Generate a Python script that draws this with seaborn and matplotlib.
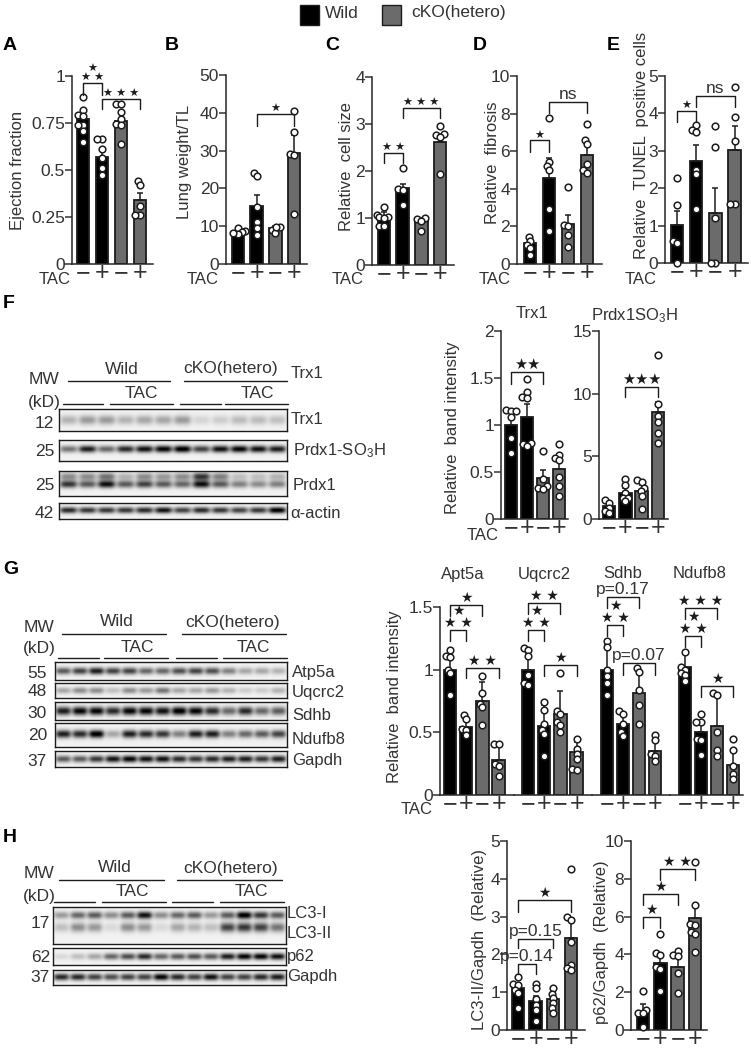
import numpy as np
import pandas as pd
import matplotlib
matplotlib.use("Agg")
import matplotlib.pyplot as plt
from matplotlib.collections import PathCollection
from matplotlib.patches import Rectangle
import seaborn as sns

CONDITIONS = ["Wild", "Wild TAC", "cKO", "cKO TAC"]
SIGNS = ["\u2212", "+", "\u2212", "+"]
BAR_COLORS = ["#000000", "#000000", "#6b6b6b", "#6b6b6b"]
INK = "#1c1c1c"
TEXT = "#333333"

# bar heights, upper error and single points
A_MEANS = [0.77, 0.57, 0.76, 0.34]
A_ERR = [0.04, 0.04, 0.04, 0.04]
A_POINTS = [[0.887, 0.82, 0.79, 0.785, 0.74, 0.74, 0.705, 0.65],
            [0.664, 0.664, 0.61, 0.563, 0.513, 0.474],
            [0.85, 0.85, 0.81, 0.77, 0.745, 0.74, 0.64],
            [0.44, 0.42, 0.306, 0.26, 0.26]]
A_BRACKETS = [(0, 1, 0.965, 0.90, "\u2605\n\u2605 \u2605"), (1, 3, 0.88, 0.823, "\u2605 \u2605 \u2605")]

B_MEANS = [8.5, 15.3, 9.5, 29.3]
B_ERR = [0.8, 2.9, 0.6, 4.7]
B_POINTS = [[9.5, 8.6, 8.4, 7.9, 8.2],
            [24.2, 23.3, 15.2, 11.2, 9.5, 7.7],
            [9.9, 9.0, 8.2, 9.7],
            [40.5, 34.8, 29.0, 28.8, 13.3]]
B_BRACKETS = [(1, 3, 39.6, 36.4, "\u2605")]

C_MEANS = [1.02, 1.63, 0.96, 2.62]
C_ERR = [0.1, 0.1, 0.05, 0.1]
C_POINTS = [[1.23, 1.07, 1.03, 1.02, 1.0, 0.82, 0.82],
            [2.06, 1.62, 1.6, 1.28],
            [1.0, 0.98, 0.93, 0.73],
            [2.95, 2.78, 2.76, 2.73, 1.93]]
C_BRACKETS = [(0, 1, 2.39, 2.16, "\u2605 \u2605"), (1, 3, 3.35, 3.12, "\u2605 \u2605 \u2605")]

D_MEANS = [1.1, 4.6, 2.15, 5.8]
D_ERR = [0.2, 1.05, 0.45, 0.6]
D_POINTS = [[1.43, 1.2, 1.03, 0.85, 0.5],
            [7.75, 5.45, 5.2, 5.0, 2.94, 1.77],
            [4.1, 2.1, 2.0, 1.56, 0.9],
            [7.45, 6.6, 6.4, 5.3, 5.0, 4.85]]
D_BRACKETS = [(0, 1, 6.57, 5.98, "\u2605"), (1, 3, 8.6, 8.02, "ns")]

E_MEANS = [1.02, 2.72, 1.33, 3.02]
E_ERR = [0.38, 0.43, 0.67, 0.63]
E_POINTS = [[2.27, 1.54, 0.6, 0.53, 0.0],
            [3.7, 3.56, 3.5, 2.5, 2.38, 1.45],
            [3.67, 3.1, 1.2, 0.0, 0.0],
            [4.7, 3.9, 3.27, 1.58, 1.58]]
E_BRACKETS = [(0, 1, 4.07, 3.78, "\u2605"), (1, 3, 4.47, 4.18, "ns")]

TRX_MEANS = [1.0, 1.09, 0.44, 0.53]
TRX_ERR = [0.13, 0.13, 0.08, 0.09]
TRX_POINTS = [[1.16, 1.15, 1.15, 1.09, 0.865, 0.7],
              [1.49, 1.35, 1.3, 1.29, 0.81, 0.8, 0.78],
              [0.72, 0.43, 0.35, 0.33, 0.32],
              [0.8, 0.68, 0.65, 0.63, 0.45, 0.35, 0.25]]
TRX_BRACKETS = [(0, 2, 1.56, 1.44, "\u2605\u2605")]

PRDX_MEANS = [1.0, 2.1, 2.2, 8.5]
PRDX_ERR = [0.3, 0.4, 0.5, 0.8]
PRDX_POINTS = [[1.5, 1.27, 0.9, 0.6, 0.5],
               [3.2, 2.7, 2.1, 1.7, 1.7, 1.4],
               [3.1, 2.95, 2.45, 2.2, 1.85, 0.8],
               [13.1, 9.15, 8.2, 7.7, 6.9, 6.05]]
PRDX_BRACKETS = [(1, 3, 10.56, 9.7, "\u2605\u2605\u2605")]

APT_MEANS = [1.0, 0.54, 0.75, 0.28]
APT_ERR = [0.12, 0.08, 0.15, 0.12]
APT_POINTS = [[1.16, 1.11, 1.1, 1.0, 0.97, 0.8],
              [0.64, 0.61, 0.53, 0.52, 0.48],
              [0.95, 0.81, 0.73, 0.7, 0.56],
              [0.41, 0.41, 0.25, 0.23, 0.15]]
APT_BRACKETS = [(0, 1, 1.314, 1.23, "\u2605\n\u2605 \u2605"), (0, 2, 1.513, 1.43, "\u2605"), (1, 3, 1.017, 0.93, "\u2605 \u2605")]

UQ_MEANS = [1.0, 0.55, 0.65, 0.34]
UQ_ERR = [0.13, 0.17, 0.18, 0.08]
UQ_POINTS = [[1.17, 1.16, 1.11, 0.96, 0.89, 0.88],
             [0.74, 0.68, 0.57, 0.52, 0.49, 0.31],
             [0.97, 0.67, 0.65, 0.58, 0.56, 0.5],
             [0.45, 0.37, 0.33, 0.29, 0.21, 0.2]]
UQ_BRACKETS = [(0, 1, 1.314, 1.23, "\u2605\n\u2605 \u2605"), (0, 2, 1.534, 1.447, "\u2605 \u2605"), (1, 3, 1.04, 0.95, "\u2605")]

SDH_MEANS = [1.0, 0.57, 0.81, 0.35]
SDH_ERR = [0.2, 0.08, 0.17, 0.1]
SDH_POINTS = [[1.23, 1.18, 1.0, 0.95, 0.89, 0.8],
              [0.67, 0.65, 0.57, 0.5, 0.47],
              [1.01, 0.98, 0.84, 0.72, 0.57],
              [0.48, 0.44, 0.33, 0.31, 0.27]]
SDH_BRACKETS = [(0, 1, 1.354, 1.266, "\u2605\n\u2605 \u2605"), (0, 2, 1.58, 1.495, "p=0.17"), (1, 3, 1.05, 0.96, "p=0.07")]

NDU_MEANS = [1.02, 0.5, 0.55, 0.24]
NDU_ERR = [0.11, 0.08, 0.25, 0.13]
NDU_POINTS = [[1.14, 1.02, 1.0, 0.97, 0.96, 0.91],
              [0.65, 0.58, 0.58, 0.45, 0.44, 0.32],
              [0.81, 0.8, 0.5, 0.36, 0.31],
              [0.45, 0.36, 0.23, 0.17, 0.13]]
NDU_BRACKETS = [(0, 1, 1.27, 1.18, "\u2605\n\u2605 \u2605"), (0, 2, 1.495, 1.407, "\u2605 \u2605 \u2605"), (1, 3, 0.87, 0.783, "\u2605")]

LC3_MEANS = [1.1, 0.78, 0.83, 2.43]
LC3_ERR = [0.15, 0.12, 0.12, 0.52]
LC3_POINTS = [[1.39, 1.23, 1.2, 1.06, 0.97, 0.57],
              [1.23, 1.1, 0.82, 0.66, 0.53, 0.25],
              [1.1, 0.95, 0.84, 0.72, 0.57, 0.46],
              [4.27, 2.98, 2.9, 2.34, 1.72, 1.63, 1.58]]
LC3_BRACKETS = [(0, 3, 3.43, 3.12, "\u2605"), (0, 2, 2.42, 2.16, "p=0.15"), (0, 1, 1.74, 1.48, "p=0.14")]

P62_MEANS = [0.95, 3.55, 3.35, 5.95]
P62_ERR = [0.4, 0.55, 0.6, 0.6]
P62_POINTS = [[2.06, 1.06, 0.92, 0.9, 0.14],
              [5.06, 4.05, 3.95, 3.35, 3.25, 2.08],
              [4.2, 3.95, 3.9, 3.0, 1.97],
              [8.9, 6.6, 5.6, 5.55, 5.2, 5.1, 4.15]]
P62_BRACKETS = [(0, 1, 5.96, 5.41, "\u2605"), (0, 2, 7.2, 6.6, "\u2605"), (1, 3, 8.52, 7.94, "\u2605 \u2605")]

# band strength per lane for the blots
F_TRX1 = [0.25, 0.35, 0.35, 0.25, 0.3, 0.3, 0.35, 0.12, 0.15, 0.22, 0.22, 0.2]
F_SOH = [0.5, 0.85, 0.55, 0.8, 0.9, 0.95, 1.0, 0.7, 0.9, 0.95, 0.9, 0.85]
F_PRDX_UP = [0.4, 0.4, 0.5, 0.25, 0.4, 0.35, 0.4, 0.75, 0.45, 0.2, 0.2, 0.25]
F_PRDX_LOW = [0.75, 0.6, 0.9, 0.6, 0.7, 0.6, 0.55, 0.9, 0.6, 0.45, 0.4, 0.45]
F_ACTIN = [0.8, 0.75, 0.75, 0.75, 0.8, 0.9, 0.7, 0.8, 0.75, 0.7, 0.75, 1.0]
G_ATP = [0.6, 0.7, 0.85, 0.7, 0.7, 0.55, 0.55, 0.65, 0.7, 0.65, 0.45, 0.3, 0.3, 0.25]
G_UQ = [0.3, 0.4, 0.4, 0.2, 0.4, 0.35, 0.5, 0.3, 0.3, 0.35, 0.25, 0.15, 0.15, 0.25]
G_SDH = [0.85, 0.95, 0.95, 0.8, 0.95, 0.95, 0.9, 1.0, 0.95, 0.8, 0.55, 0.8, 0.55, 0.6]
G_NDU = [0.85, 0.8, 1.0, 0.3, 0.85, 0.8, 0.75, 0.45, 0.85, 0.85, 0.45, 0.55, 0.6, 0.7]
G_GAPDH = [0.6, 0.6, 0.75, 0.9, 0.95, 0.9, 0.9, 0.8, 0.75, 0.8, 0.85, 0.85, 0.75, 0.85]
H_LC3_I = [0.35, 0.55, 0.6, 0.4, 0.6, 0.9, 0.4, 0.55, 0.6, 0.35, 0.6, 1.0, 0.75, 0.6]
H_LC3_II = [0.2, 0.4, 0.35, 0.1, 0.4, 0.35, 0.1, 0.3, 0.25, 0.2, 0.7, 0.75, 0.7, 0.5]
H_P62 = [0.1, 0.2, 0.3, 0.55, 0.65, 0.8, 0.55, 0.6, 0.65, 0.6, 0.85, 0.95, 0.95, 0.9]
H_GAPDH = [0.8, 0.8, 0.7, 0.65, 0.7, 0.7, 0.95, 0.8, 0.7, 0.9, 0.7, 0.7, 0.8, 0.85]

W, H = 751, 1051

sns.set_theme(style="ticks")
plt.rcParams["font.family"] = ["Liberation Sans", "DejaVu Sans"]
plt.rcParams["mathtext.default"] = "regular"
plt.rcParams["text.color"] = TEXT
plt.rcParams["axes.labelcolor"] = TEXT
plt.rcParams["xtick.color"] = TEXT
plt.rcParams["ytick.color"] = TEXT

fig = plt.figure(figsize=(W / 100, H / 100), dpi=100)

# overlay in picture pixels for labels that are not tied to one axes
ov = fig.add_axes([0, 0, 1, 1], zorder=5)
ov.set_xlim(0, W)
ov.set_ylim(H, 0)
ov.axis("off")


def px_axes(x0, x1, top, bottom):
    return fig.add_axes([x0 / W, 1 - bottom / H, (x1 - x0) / W, (bottom - top) / H])


def say(x, y, s, size=12, ha="center", **kw):
    ov.text(x, y, s, fontsize=size, ha=ha, va="center", **kw)


def bar_panel(box, c0, step, means, err, points, brackets, ymax, ticks, ticklabels=None,
              ylabel=None, label_xy=None, star=8.5, left=True):
    x0, x1, top, bottom = box
    ax = px_axes(x0, x1, top, bottom)
    ax.patch.set_alpha(0)
    sns.barplot(x=CONDITIONS, y=means, hue=CONDITIONS, palette=BAR_COLORS, order=CONDITIONS,
                width=12.5 / step, edgecolor=INK, linewidth=1.3, legend=False, errorbar=None, ax=ax)
    ax.errorbar(range(4), means, yerr=[np.zeros(4), err], fmt="none", ecolor=INK,
                elinewidth=1.1, capsize=2.5, capthick=1.1, clip_on=False, zorder=3)
    long = pd.DataFrame({"condition": [c for c, vals in zip(CONDITIONS, points) for _ in vals],
                         "value": [v for vals in points for v in vals]})
    sns.swarmplot(data=long, x="condition", y="value", order=CONDITIONS, color="white",
                  edgecolor=INK, linewidth=0.6, size=2.6, clip_on=False, zorder=4, ax=ax)
    ax.set_xlim((x0 - c0) / step, (x1 - c0) / step)
    ax.set_ylim(0, ymax)
    # seaborn lays the swarm out again at draw time: fix it at the small size, then enlarge the dots
    fig.canvas.draw()
    for coll in ax.collections:
        if isinstance(coll, PathCollection):
            if "draw" in vars(coll):
                del coll.draw
            coll.set_sizes([23])
            coll.set_linewidth(1.1)
    for i, j, y_top, y_leg, txt in brackets:
        ax.plot([i, i, j, j], [y_leg, y_top, y_top, y_leg], color=INK, lw=1.0, clip_on=False, zorder=5)
        is_star = "\u2605" in txt
        ax.text((i + j) / 2, y_top, txt, ha="center", va="bottom", fontsize=star if is_star else 12.5,
                linespacing=0.85, color=INK if is_star else TEXT, clip_on=False)
    ax.set_xlim((x0 - c0) / step, (x1 - c0) / step)
    ax.set_ylim(0, ymax)
    ax.set_xticks(range(4))
    ax.set_xticklabels(SIGNS, fontsize=18)
    ax.tick_params(axis="x", length=0, pad=-2)
    ax.set_xlabel("")
    ax.set_ylabel("")
    sns.despine(ax=ax)
    ax.spines["bottom"].set_linewidth(1.1)
    if left:
        ax.set_yticks(ticks)
        ax.set_yticklabels(ticklabels if ticklabels else [str(t) for t in ticks], fontsize=12.5)
        ax.tick_params(axis="y", length=5, width=1.1, pad=0)
        ax.spines["left"].set_linewidth(1.1)
    else:
        ax.set_yticks([])
        ax.spines["left"].set_visible(False)
    if ylabel:
        ax.set_ylabel(ylabel, fontsize=12)
        # the label hangs left of its anchor, so move the anchor by half a text height
        ax.yaxis.set_label_coords(label_xy[0] + 9, label_xy[1], transform=ov.transData)
    return ax


def blot(x0, x1, top, bottom, bands):
    # bands: (height in the box, thickness, strength per lane)
    ax = px_axes(x0, x1, top, bottom)
    rows = max(int(bottom - top) * 3, 30)
    cols = int(x1 - x0) * 3
    yy, xx = np.mgrid[0:1:rows * 1j, 0:1:cols * 1j]
    dark = np.full((rows, cols), 0.05)
    for frac, thick, strength in bands:
        n = len(strength)
        for k, s in enumerate(strength):
            lane = np.exp(-(((xx - (k + 0.5) / n) * n / 0.46) ** 4))
            dark += s * lane * np.exp(-(((yy - frac) / thick) ** 2))
    ax.imshow(1 - np.clip(dark, 0, 1), cmap="gray", vmin=0, vmax=1, aspect="auto", interpolation="bilinear")
    ax.set_xticks([])
    ax.set_yticks([])
    for s in ax.spines.values():
        s.set_linewidth(1.0)
        s.set_color(INK)
    return ax


def header(mw_x, mw_y, kd_y, wild, cko, line_y, tac1, tac2, tac_y, spans, span_y):
    say(mw_x, mw_y, "MW", 12.5)
    say(mw_x, kd_y, "(kD)", 12.5)
    say(wild[0], line_y - 12, "Wild", 12.5)
    say(cko[0], line_y - 12, "cKO(hetero)", 12.5)
    ov.plot(wild[1:], [line_y, line_y], color=INK, lw=1.0)
    ov.plot(cko[1:], [line_y, line_y], color=INK, lw=1.0)
    say(tac1, tac_y, "TAC", 12.5)
    say(tac2, tac_y, "TAC", 12.5)
    for a, b in spans:
        ov.plot([a, b], [span_y, span_y], color=INK, lw=1.0)


# legend
ov.add_patch(Rectangle((299.5, 4.5), 19, 20, facecolor="black", edgecolor=INK, lw=1))
say(325, 13, "Wild", 12.5, ha="left")
ov.add_patch(Rectangle((382, 4.5), 19, 20, facecolor="#6b6b6b", edgecolor=INK, lw=1))
say(411, 13, "cKO(hetero)", 12.5, ha="left")

# panel letters
for letter, x, y in [("A", 3, 45), ("B", 165, 45), ("C", 325, 45), ("D", 473, 45), ("E", 607, 45),
                     ("F", 3, 304), ("G", 3, 569), ("H", 3, 838)]:
    say(x, y, letter, 14, ha="left", fontweight="bold", color="black")

# top row
bar_panel((72, 153, 76, 264), 83, 19, A_MEANS, A_ERR, A_POINTS, A_BRACKETS, 1, [0, 0.25, 0.5, 0.75, 1],
          ["0", "0.25", "0.5", "0.75", "1"], "Ejection fraction", (16, 170), star=8)
bar_panel((226, 307, 75, 264), 238, 18.7, B_MEANS, B_ERR, B_POINTS, B_BRACKETS, 50, [0, 10, 20, 30, 40, 50],
          None, "Lung weight/TL", (183, 162), star=8)
bar_panel((372, 454, 77, 265), 384, 18.7, C_MEANS, C_ERR, C_POINTS, C_BRACKETS, 4, [0, 1, 2, 3, 4],
          None, "Relative  cell size", (345, 167), star=8)
bar_panel((517, 602, 76, 264), 530, 19, D_MEANS, D_ERR, D_POINTS, D_BRACKETS, 10, [0, 2, 4, 6, 8, 10],
          None, "Relative  fibrosis", (491, 163), star=8)
bar_panel((665, 748, 76, 263), 677, 19.2, E_MEANS, E_ERR, E_POINTS, E_BRACKETS, 5, [0, 1, 2, 3, 4, 5],
          None, "Relative  TUNEL  positive cells", (640, 145), star=8)
for x, y in [(55, 279), (203, 279), (348, 280), (495, 279), (641, 279)]:
    say(x, y, "TAC", 12)

# panel F
header(44, 380, 403, (122, 68, 170), (231, 184, 287), 381, 141, 257, 393,
       [(63, 103), (110, 173), (180, 221), (225, 288)], 404)
blot(59, 287, 409, 431, [(0.5, 0.22, F_TRX1)])
blot(59, 287, 440, 461, [(0.43, 0.17, F_SOH)])
blot(59, 287, 471, 496, [(0.22, 0.16, F_PRDX_UP), (0.53, 0.15, F_PRDX_LOW)])
blot(59, 287, 503, 519, [(0.45, 0.2, F_ACTIN)])
for y, s in [(424, "12"), (451, "25"), (486, "25"), (513, "42")]:
    say(54, y, s, 12.5, ha="right")
for x, y, s in [(291, 373, "Trx1"), (291, 419, "Trx1"), (293, 451, "Prdx1-SO$_3$H"), (293, 485, "Prdx1"), (290, 514, "\u03b1-actin")]:
    say(x, y, s, 12, ha="left")

bar_panel((501, 568, 331, 519), 511, 16, TRX_MEANS, TRX_ERR, TRX_POINTS, TRX_BRACKETS, 2, [0, 0.5, 1, 1.5, 2],
          ["0", "0.5", "1", "1.5", "2"], "Relative  band intensity", (451, 428), star=10.5)
bar_panel((599, 668, 331, 519), 609, 16.3, PRDX_MEANS, PRDX_ERR, PRDX_POINTS, PRDX_BRACKETS, 15, [0, 5, 10, 15], star=10.5)
say(532, 314, "Trx1", 12)
say(635, 316, "Prdx1SO$_3$H", 12)
say(483, 536, "TAC", 12)

# panel G
header(39, 628, 649, (117, 62, 166), (233, 182, 286), 634, 137, 253, 647,
       [(58, 99), (104, 168), (176, 217), (223, 287)], 658)
blot(55, 287, 662, 680, [(0.5, 0.2, G_ATP)])
blot(55, 287, 683, 698, [(0.5, 0.22, G_UQ)])
blot(55, 287, 702, 720, [(0.5, 0.24, G_SDH)])
blot(55, 287, 723, 747, [(0.48, 0.16, G_NDU)])
blot(55, 287, 751, 767, [(0.5, 0.22, G_GAPDH)])
for y, s in [(673, "55"), (692, "48"), (713, "30"), (736, "20"), (761, "37")]:
    say(47, y, s, 12.5, ha="right")
for y, s in [(673, "Atp5a"), (693, "Uqcrc2"), (716, "Sdhb"), (739, "Ndufb8"), (761, "Gapdh")]:
    say(292, y, s, 12, ha="left")

G_TOP, G_BOTTOM = 607, 795
bar_panel((440, 514, G_TOP, G_BOTTOM), 450, 16.2, APT_MEANS, APT_ERR, APT_POINTS, APT_BRACKETS, 1.5, [0, 0.5, 1, 1.5],
          ["0", "0.5", "1", "1.5"], "Relative  band intensity", (393, 697), star=10)
bar_panel((514, 592, G_TOP, G_BOTTOM), 528, 16.2, UQ_MEANS, UQ_ERR, UQ_POINTS, UQ_BRACKETS, 1.5, [], left=False, star=10)
bar_panel((592, 670, G_TOP, G_BOTTOM), 607, 16, SDH_MEANS, SDH_ERR, SDH_POINTS, SDH_BRACKETS, 1.5, [], left=False, star=10)
bar_panel((670, 743, G_TOP, G_BOTTOM), 685, 16, NDU_MEANS, NDU_ERR, NDU_POINTS, NDU_BRACKETS, 1.5, [], left=False, star=10)
for x, s in [(463, "Apt5a"), (544, "Uqcrc2"), (623, "Sdhb"), (700, "Ndufb8")]:
    say(x, 574, s, 12)
say(417, 810, "TAC", 12)

# panel H
header(39, 873, 897, (115, 59, 164), (231, 177, 282), 880, 132, 251, 892,
       [(54, 95), (102, 166), (172, 213), (220, 284)], 902)
blot(53, 286, 907, 944, [(0.22, 0.1, H_LC3_I), (0.55, 0.13, H_LC3_II)])
blot(53, 286, 948, 965, [(0.5, 0.2, H_P62)])
blot(53, 286, 970, 985, [(0.5, 0.22, H_GAPDH)])
for y, s in [(924, "17"), (957, "62"), (978, "37")]:
    say(50, y, s, 12.5, ha="right")
for y, s in [(914, "LC3-I"), (933, "LC3-II"), (957, "p62"), (977, "Gapdh")]:
    say(287, y, s, 12, ha="left")

bar_panel((507, 585, 841, 1030), 518, 17.6, LC3_MEANS, LC3_ERR, LC3_POINTS, LC3_BRACKETS, 5, [0, 1, 2, 3, 4, 5],
          None, "LC3-II/Gapdh  (Relative)", (478, 940), star=10)
bar_panel((631, 707, 841, 1030), 643, 17.3, P62_MEANS, P62_ERR, P62_POINTS, P62_BRACKETS, 10, [0, 2, 4, 6, 8, 10],
          None, "p62/Gapdh  (Relative)", (600, 942), star=10)

fig.savefig("out.png", dpi=100)
